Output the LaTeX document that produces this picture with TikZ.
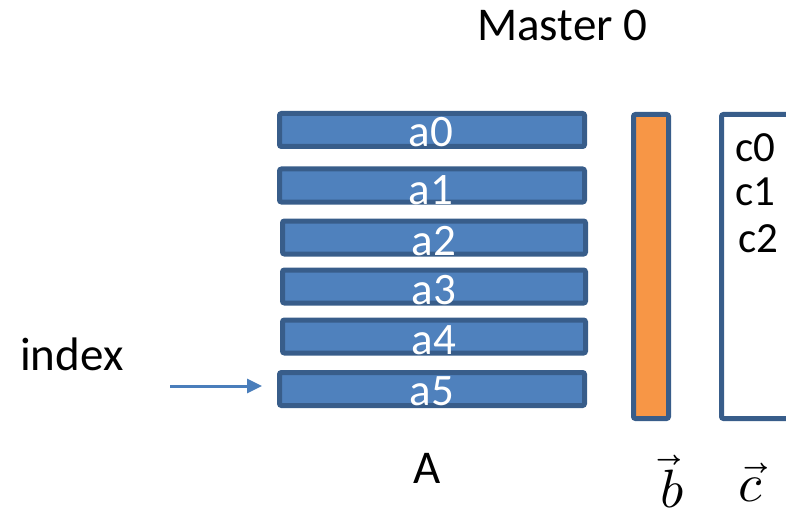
\documentclass[tikz,border=0pt]{standalone}
\usepackage{fontspec}
\usepackage{unicode-math}
\setmainfont{Carlito}
\setmathfont{Latin Modern Math}
\usetikzlibrary{arrows.meta}

\definecolor{rowfill}{HTML}{4F81BD}
\definecolor{rowedge}{HTML}{385D8A}
\definecolor{vecfill}{HTML}{F79646}
\definecolor{ptrcol}{HTML}{4A7EBB}

\tikzset{
  rowbox/.style={draw=rowedge, fill=rowfill, line width=5pt, rounded corners=2pt,
    inner sep=0pt, minimum width=305pt, minimum height=33pt},
  colbox/.style={draw=rowedge, line width=5pt, rounded corners=2pt, inner sep=0pt},
  rowlabel/.style={text=white, anchor=base, inner sep=0pt,
    font=\fontsize{45}{48}\selectfont},
  plainlabel/.style={text=black, inner sep=0pt, anchor=base west,
    font=\fontsize{47}{52}\selectfont},
  clabel/.style={text=black, inner sep=0pt, anchor=base west,
    font=\fontsize{43}{46}\selectfont},
  veclabel/.style={text=black, inner sep=0pt, anchor=base,
    font=\fontsize{54}{58}\selectfont},
  ptr/.style={draw=ptrcol, line width=3pt, -{Triangle[length=15pt,width=14pt]}}
}

\begin{document}
\begin{tikzpicture}[x=1pt, y=-1pt]
  \useasboundingbox (0,0) rectangle (786,513);
  \clip (0,0) rectangle (786,513);

  % title
  \node[plainlabel] (title) at (477,41) {Master 0};

  % rows of matrix A
  \node[rowbox] (a0) at (432,130)   {};
  \node[rowbox] (a1) at (432,185.5) {};
  \node[rowbox, minimum width=303pt] (a2) at (434,237.5) {};
  \node[rowbox, minimum width=303pt] (a3) at (434,286.5) {};
  \node[rowbox, minimum width=303pt] (a4) at (434,336.5) {};
  \node[rowbox] (a5) at (432,389)   {};

  \node[rowlabel] (t0) at (431,147) {a0};
  \node[rowlabel] (t1) at (431,204) {a1};
  \node[rowlabel] (t2) at (434,255) {a2};
  \node[rowlabel] (t3) at (434,304) {a3};
  \node[rowlabel] (t4) at (434,354) {a4};
  \node[rowlabel] (t5) at (432,405) {a5};

  % vector b
  \node[colbox, fill=vecfill, minimum width=35pt, minimum height=304pt] (bvec) at (651,266.5) {};

  % vector c (runs past the right edge)
  \node[colbox, fill=white, minimum width=100pt, minimum height=304pt] (cvec) at (771.5,266.5) {};
  \node[clabel] (c0) at (735,162) {c0};
  \node[clabel] (c1) at (735,205) {c1};
  \node[clabel] (c2) at (738,252) {c2};

  % index pointer
  \node[plainlabel] (idx) at (20,370) {index};
  \coordinate (ptrtail) at (170,386);
  \draw[ptr] (ptrtail) -- (ptrtail -| a5.west) [shorten >=15pt];

  % captions
  \node[plainlabel] (capA) at (413,483) {A};
  \node[veclabel] (capb) at (672,507) {$\vec{b}$};
  \node[veclabel] (capc) at (751,501) {$\vec{c}$};
\end{tikzpicture}
\end{document}
